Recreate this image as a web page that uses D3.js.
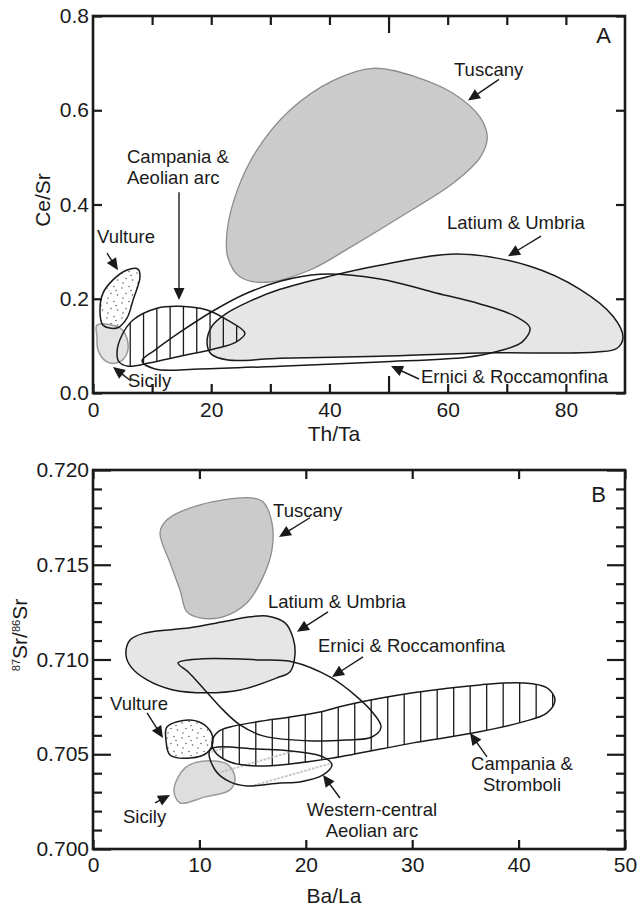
<!DOCTYPE html>
<html><head><meta charset="utf-8">
<script src="https://cdn.jsdelivr.net/npm/d3@7"></script>
<style>
html,body{margin:0;padding:0;background:#fff;}
svg text{font-family:"Liberation Sans",Arial,Helvetica,sans-serif;fill:#1a1a1a;}
</style></head><body>
<svg id="chart" width="637" height="907"></svg>
<script>
// ---------- Panel A: Ce/Sr vs Th/Ta fields ----------
const tuscanyA = [[47.4,0.689],[54.8,0.670],[60.9,0.636],[65.5,0.585],[66.7,0.542],[65.5,0.500],[60.9,0.445],[51.9,0.373],[43.5,0.309],[36.7,0.261],[29.4,0.235],[24.9,0.246],[22.8,0.288],[22.7,0.345],[24.4,0.430],[27.7,0.515],[33.3,0.600],[40.6,0.663]];
const latiumA = [[19.29,0.108],[20.13,0.142],[22.33,0.167],[26.56,0.195],[31.64,0.220],[40.09,0.248],[48.55,0.271],[61.58,0.295],[73.93,0.269],[82.39,0.220],[87.97,0.163],[89.66,0.119],[88.65,0.095],[85.26,0.087],[65.47,0.085],[48.55,0.078],[31.64,0.074],[22.84,0.070],[19.96,0.083]];
const ernicrA = [[8.29,0.068],[10.49,0.091],[14.72,0.129],[20.30,0.174],[25.71,0.210],[31.64,0.237],[38.40,0.252],[48.55,0.242],[57.52,0.214],[65.47,0.189],[71.39,0.163],[73.93,0.138],[72.58,0.108],[68.01,0.087],[63.27,0.076],[48.55,0.066],[31.64,0.057],[18.10,0.051],[10.49,0.051]];
const campaniaA = [[4.06,0.087],[4.91,0.123],[6.77,0.155],[10.83,0.180],[14.72,0.184],[19.29,0.176],[22.67,0.155],[25.71,0.127],[24.19,0.108],[20.30,0.093],[14.72,0.078],[9.64,0.064],[5.92,0.057],[4.40,0.066]];
const vultureA = [[7.61,0.263],[7.95,0.246],[6.77,0.197],[5.75,0.159],[4.06,0.138],[1.69,0.144],[1.18,0.176],[1.69,0.212],[3.38,0.240],[5.75,0.261]];
const sicilyA = [[0.68,0.144],[4.57,0.138],[5.92,0.106],[5.41,0.076],[4.06,0.064],[2.37,0.066],[0.85,0.091],[0.68,0.119]];

const thTaTicks = [10,20,30,40,50,60,70,80];
const thTaLabels = [0,20,40,60,80];
const ceSrTicks = [0,0.2,0.4,0.6,0.8];

// ---------- Panel B: 87Sr/86Sr vs Ba/La fields ----------
const tuscanyB = [[6.95,0.71737],[10.06,0.71816],[14.76,0.71853],[15.98,0.71832],[16.82,0.71721],[16.82,0.71579],[15.98,0.71436],[14.47,0.71299],[12.22,0.71225],[10.06,0.71220],[8.83,0.71251],[8.18,0.71367],[7.24,0.71510],[6.30,0.71668]];
const latiumB = [[3.10,0.71024],[3.48,0.71103],[4.89,0.71140],[9.12,0.71167],[12.22,0.71199],[14.76,0.71225],[16.35,0.71230],[18.05,0.71193],[18.80,0.71114],[18.98,0.71024],[18.52,0.70935],[17.29,0.70903],[13.82,0.70839],[10.71,0.70824],[7.52,0.70839],[5.08,0.70892],[3.57,0.70961]];
const ernicrB = [[7.99,0.70982],[10.06,0.71003],[15.70,0.70998],[18.80,0.70987],[22.27,0.70908],[24.81,0.70803],[26.32,0.70718],[27.07,0.70644],[26.22,0.70591],[23.68,0.70575],[20.68,0.70570],[15.98,0.70597],[13.82,0.70655],[12.22,0.70734],[10.34,0.70850],[8.93,0.70935]];
const campaniaB = [[11.18,0.70565],[11.75,0.70618],[12.88,0.70644],[15.41,0.70671],[18.52,0.70697],[21.33,0.70723],[23.87,0.70760],[30.08,0.70824],[36.37,0.70866],[40.41,0.70876],[42.67,0.70850],[43.42,0.70787],[42.67,0.70718],[40.41,0.70671],[35.71,0.70612],[30.08,0.70560],[22.56,0.70480],[18.52,0.70449],[15.41,0.70438],[12.88,0.70459],[11.47,0.70512]];
const westernB = [[11.0,0.70523],[15.41,0.70528],[19.45,0.70512],[21.62,0.70486],[22.46,0.70444],[21.62,0.70391],[19.45,0.70354],[17.58,0.70348],[14.47,0.70333],[12.88,0.70354],[11.47,0.70417]];
const vultureB = [[6.95,0.70644],[9.12,0.70681],[10.71,0.70644],[11.28,0.70575],[10.71,0.70507],[9.12,0.70480],[7.24,0.70496],[6.86,0.70575]];
const sicilyB = [[7.61,0.70312],[8.65,0.70428],[10.53,0.70465],[12.69,0.70444],[13.35,0.70375],[12.88,0.70312],[10.53,0.70275],[8.18,0.70243]];

const baLaTicks = [0,10,20,30,40,50];
const srTicks = d3.range(0,21).map(i => +(0.700 + i*0.001).toFixed(3));

// ---------- scales ----------
const svg = d3.select("#chart");
const xA = d3.scaleLinear().domain([0,90]).range([93,625]);
const yA = d3.scaleLinear().domain([0,0.8]).range([393,16]);
const xB = d3.scaleLinear().domain([0,50]).range([93,625]);
const yB = d3.scaleLinear().domain([0.700,0.720]).range([849,470]);

const INK = "#1a1a1a";
const defs = svg.append("defs");

// stipple for the Vulture fields
const dots = defs.append("pattern").attr("id","dots").attr("patternUnits","userSpaceOnUse")
  .attr("width",15).attr("height",15);
dots.append("rect").attr("width",15).attr("height",15).attr("fill","#fff");
[[2,3],[9,1.5],[6,8.5],[12.5,10],[3,13],[11,5.5]].forEach(p =>
  dots.append("circle").attr("cx",p[0]).attr("cy",p[1]).attr("r",0.75).attr("fill","#555"));

// faint diagonal rule inside the Western-central Aeolian arc field
const diag = defs.append("pattern").attr("id","diag").attr("patternUnits","userSpaceOnUse")
  .attr("width",60).attr("height",22).attr("patternTransform","rotate(-16)");
diag.append("line").attr("x1",0).attr("x2",60).attr("y1",11).attr("y2",11)
  .attr("stroke","#b0b0b0").attr("stroke-width",1.3).attr("stroke-dasharray","2.5,1.5");

function shapeLine(x, y) {
  return d3.line().x(d => x(d[0])).y(d => y(d[1])).curve(d3.curveCatmullRomClosed.alpha(0.5));
}

function field(g, x, y, pts, style) {
  return g.append("path").attr("d", shapeLine(x,y)(pts))
    .attr("fill", style.fill || "none")
    .attr("fill-opacity", style.fillOpacity == null ? 1 : style.fillOpacity)
    .attr("stroke", style.stroke || "none")
    .attr("stroke-width", style.width || 1.5)
    .attr("stroke-linejoin","round");
}

function hatch(g, x, y, pts, id, start, step) {
  defs.append("clipPath").attr("id", id).append("path").attr("d", shapeLine(x,y)(pts));
  const [x0, x1] = d3.extent(pts, d => d[0]);
  const [y0, y1] = d3.extent(pts, d => d[1]);
  const xs = d3.range(start, x1, step).filter(v => v > x0);
  g.append("g").attr("clip-path", `url(#${id})`).selectAll("line").data(xs).join("line")
    .attr("x1", d => x(d)).attr("x2", d => x(d))
    .attr("y1", y(y1) - 2).attr("y2", y(y0) + 2)
    .attr("stroke", INK).attr("stroke-width", 1.3);
}

function arrow(g, p0, p1) {
  const dx = p1[0]-p0[0], dy = p1[1]-p0[1], L = Math.hypot(dx,dy);
  const ux = dx/L, uy = dy/L, hl = 12, hw = 5.5;
  const bx = p1[0]-ux*hl, by = p1[1]-uy*hl;
  g.append("line").attr("x1",p0[0]).attr("y1",p0[1]).attr("x2",bx+ux*2).attr("y2",by+uy*2)
    .attr("stroke",INK).attr("stroke-width",1.4);
  g.append("path").attr("d",`M${p1[0]},${p1[1]}L${bx-uy*hw},${by+ux*hw}L${bx+uy*hw},${by-ux*hw}Z`)
    .attr("fill",INK);
}

function annotate(g, x, y, list) {
  list.forEach(a => {
    const t = g.append("text").attr("x", x(a.at[0])).attr("y", y(a.at[1]))
      .attr("text-anchor", a.anchor || "start").attr("font-size", 18.5);
    a.lines.forEach((s,i) => t.append("tspan").attr("x", x(a.at[0])).attr("dy", i ? 21 : 0).text(s));
    if (a.from) arrow(g, [x(a.from[0]), y(a.from[1])], [x(a.to[0]), y(a.to[1])]);
  });
}

function frame(g, x, y) {
  g.append("rect").attr("x", x.range()[0]).attr("y", y.range()[1])
    .attr("width", x.range()[1]-x.range()[0]).attr("height", y.range()[0]-y.range()[1])
    .attr("fill","none").attr("stroke",INK).attr("stroke-width",2.6);
}

function styleAxis(sel) {
  sel.select(".domain").remove();
  sel.selectAll(".tick line").attr("stroke",INK).attr("stroke-width",2.2);
  sel.selectAll("text").attr("font-size",21).attr("fill",INK)
    .attr("font-family",'"Liberation Sans",Arial,sans-serif');
}

// ================= Panel A =================
const gA = svg.append("g");
field(gA, xA, yA, tuscanyA, {fill:"#cbcbcb", stroke:"#8c8c8c", width:1.3});
field(gA, xA, yA, latiumA, {fill:"#e6e6e6"});
field(gA, xA, yA, vultureA, {fill:"url(#dots)"});
field(gA, xA, yA, sicilyA, {fill:"#dedede", fillOpacity:0.85, stroke:"#9a9a9a", width:1.5});
hatch(gA, xA, yA, campaniaA, "clipCampA", 6.3, 2.25);
field(gA, xA, yA, latiumA, {stroke:INK});
field(gA, xA, yA, ernicrA, {stroke:INK});
field(gA, xA, yA, campaniaA, {stroke:INK});
field(gA, xA, yA, vultureA, {stroke:INK});

gA.append("g").attr("transform",`translate(0,${yA.range()[0]})`)
  .call(d3.axisBottom(xA).tickValues([0, ...thTaTicks]).tickSize(-9).tickPadding(9)
    .tickFormat(d => thTaLabels.includes(d) ? d3.format("d")(d) : ""))
  .call(styleAxis)
  .call(s => s.selectAll(".tick line").filter(d => d === 50).attr("y2", -17));
gA.append("g").attr("transform",`translate(0,${yA.range()[1]})`)
  .call(d3.axisTop(xA).tickValues(thTaTicks).tickSize(-9).tickFormat(""))
  .call(styleAxis)
  .call(s => s.selectAll(".tick line").filter(d => d === 50).attr("y2", 17));
gA.append("g").attr("transform",`translate(${xA.range()[0]},0)`)
  .call(d3.axisLeft(yA).tickValues(ceSrTicks).tickSize(-9).tickPadding(4).tickFormat(d3.format(".1f")))
  .call(styleAxis);
gA.append("g").attr("transform",`translate(${xA.range()[1]},0)`)
  .call(d3.axisRight(yA).tickValues(ceSrTicks).tickSize(-9).tickFormat(""))
  .call(styleAxis);
frame(gA, xA, yA);

annotate(gA, xA, yA, [
  {lines:["Tuscany"], at:[61.07,0.6717], from:[68.69,0.6654], to:[63.44,0.6209]},
  {lines:["Latium & Umbria"], at:[59.89,0.3475], from:[75.79,0.3327], to:[70.21,0.2903]},
  {lines:["Ernici & Roccamonfina"], at:[55.49,0.0212], from:[55.15,0.0297], to:[50.41,0.0572]},
  {lines:["Campania &","Aeolian arc"], at:[5.75,0.4874], from:[14.55,0.4259], to:[14.55,0.1971]},
  {lines:["Vulture"], at:[0.68,0.3179], from:[2.37,0.2967], to:[4.23,0.2606]},
  {lines:["Sicily"], at:[5.92,0.0127], from:[6.43,0.0254], to:[3.38,0.0551]}
]);

gA.append("text").attr("x",611).attr("y",43).attr("text-anchor","end").attr("font-size",22).text("A");
gA.append("text").attr("x",334).attr("y",441).attr("text-anchor","middle").attr("font-size",21).text("Th/Ta");
gA.append("text").attr("transform","translate(50,200) rotate(-90)").attr("text-anchor","middle")
  .attr("font-size",21).text("Ce/Sr");

// ================= Panel B =================
const gB = svg.append("g");
field(gB, xB, yB, tuscanyB, {fill:"#cbcbcb", stroke:"#8c8c8c", width:1.3});
field(gB, xB, yB, latiumB, {fill:"#e6e6e6"});
field(gB, xB, yB, sicilyB, {fill:"#dedede", stroke:"#9a9a9a", width:1.5});
field(gB, xB, yB, vultureB, {fill:"url(#dots)"});
hatch(gB, xB, yB, campaniaB, "clipCampB", 12.2, 1.55);
field(gB, xB, yB, westernB, {fill:"url(#diag)"});
field(gB, xB, yB, latiumB, {stroke:INK});
field(gB, xB, yB, ernicrB, {stroke:INK});
field(gB, xB, yB, campaniaB, {stroke:INK});
field(gB, xB, yB, westernB, {stroke:INK});
field(gB, xB, yB, vultureB, {stroke:INK});

gB.append("g").attr("transform",`translate(0,${yB.range()[0]})`)
  .call(d3.axisBottom(xB).tickValues(baLaTicks).tickSize(-9).tickPadding(8).tickFormat(d3.format("d")))
  .call(styleAxis);
gB.append("g").attr("transform",`translate(0,${yB.range()[1]})`)
  .call(d3.axisTop(xB).tickValues(baLaTicks).tickSize(-9).tickFormat(""))
  .call(styleAxis);
gB.append("g").attr("transform",`translate(${xB.range()[0]},0)`)
  .call(d3.axisLeft(yB).tickValues(srTicks).tickSize(-9).tickPadding(4)
    .tickFormat((d,i) => i % 5 === 0 ? d3.format(".3f")(d) : ""))
  .call(styleAxis)
  .call(s => s.selectAll(".tick line").attr("x2", (d,i) => i % 5 === 0 ? 18 : 9));
gB.append("g").attr("transform",`translate(${xB.range()[1]},0)`)
  .call(d3.axisRight(yB).tickValues(srTicks).tickSize(-9).tickFormat(""))
  .call(styleAxis)
  .call(s => s.selectAll(".tick line").attr("x2", (d,i) => i % 5 === 0 ? -18 : -9));
frame(gB, xB, yB);

annotate(gB, xB, yB, [
  {lines:["Tuscany"], at:[16.92,0.71753], from:[20.39,0.71748], to:[17.48,0.71647]},
  {lines:["Latium & Umbria"], at:[16.45,0.71272], from:[22.09,0.71251], to:[19.17,0.71146]},
  {lines:["Ernici & Roccamonfina"], at:[21.15,0.71040], from:[25.38,0.71014], to:[22.46,0.70908]},
  {lines:["Vulture"], at:[1.60,0.70734], from:[5.08,0.70718], to:[6.58,0.70586]},
  {lines:["Sicily"], at:[2.82,0.70137], from:[5.83,0.70243], to:[7.24,0.70285]},
  {lines:["Western-central","Aeolian arc"], at:[26.22,0.70174], anchor:"middle", from:[23.21,0.70269], to:[21.62,0.70391]},
  {lines:["Campania &","Stromboli"], at:[40.32,0.70417], anchor:"middle", from:[37.03,0.70486], to:[35.43,0.70612]}
]);

gB.append("text").attr("x",606).attr("y",502).attr("text-anchor","end").attr("font-size",22).text("B");
gB.append("text").attr("x",334).attr("y",903).attr("text-anchor","middle").attr("font-size",21).text("Ba/La");
const yt = gB.append("text").attr("transform","translate(27,635) rotate(-90)").attr("text-anchor","middle")
  .attr("font-size",21);
yt.append("tspan").attr("font-size",11).attr("baseline-shift","65%").text("87");
yt.append("tspan").text("Sr/");
yt.append("tspan").attr("font-size",11).attr("baseline-shift","65%").text("86");
yt.append("tspan").text("Sr");
</script>
</body></html>
